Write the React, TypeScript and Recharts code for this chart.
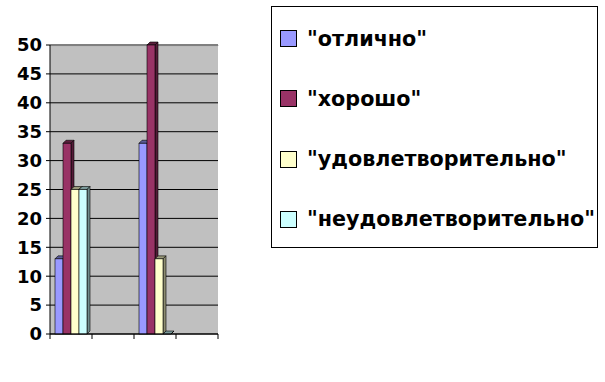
import { BarChart, Bar, XAxis, YAxis, CartesianGrid, Legend, ReferenceArea } from "recharts"

const categories = ["1", "2", "3", "4"]
// null = empty cell in the source sheet (nothing drawn), 0 = real zero (flat sliver)
const otlichno = [13, null, 33, null]
const khorosho = [33, null, 50, null]
const udovl = [25, null, 13, null]
const neudovl = [25, null, 0, null]
const seriesNames = ['"отлично"', '"хорошо"', '"удовлетворительно"', '"неудовлетворительно"']
const seriesColors = ["#9999FF", "#993366", "#FFFFCC", "#CCFFFF"]
const yTicks = [0, 5, 10, 15, 20, 25, 30, 35, 40, 45, 50]

const data = categories.map((name, i) => ({
  name,
  s0: otlichno[i],
  s1: khorosho[i],
  s2: udovl[i],
  s3: neudovl[i],
}))

const FONT = '"DejaVu Sans", Tahoma, sans-serif'

function shade(hex: string, k: number) {
  const n = parseInt(hex.slice(1), 16)
  const r = Math.round(((n >> 16) & 255) * k)
  const g = Math.round(((n >> 8) & 255) * k)
  const b = Math.round((n & 255) * k)
  return `rgb(${r},${g},${b})`
}

// fake 3d box like old excel charts
const Bar3D = (props: any) => {
  const { x, y, width, height, fill, value } = props
  if (height == null || width == null || value == null) return <g />
  const v = Array.isArray(value) ? value[1] : value
  if (v == null) return <g />
  const d = 3
  const h = Math.max(height, 0)
  return (
    <g>
      <polygon
        points={`${x},${y} ${x + d},${y - d} ${x + width + d},${y - d} ${x + width},${y}`}
        fill={shade(fill, 0.6)}
        stroke="#000"
        strokeWidth={0.6}
      />
      <polygon
        points={`${x + width},${y} ${x + width + d},${y - d} ${x + width + d},${y + h - d} ${x + width},${y + h}`}
        fill={shade(fill, 0.55)}
        stroke="#000"
        strokeWidth={0.6}
      />
      {h > 0 && <rect x={x} y={y} width={width} height={h} fill={fill} stroke="#000" strokeWidth={0.6} />}
    </g>
  )
}

// ticks sit on the category borders, not the centres
const EdgeTick = (props: any) => {
  const { x, y, payload, index, visibleTicksCount } = props
  const half = payload?.offset ?? 0
  const last = index === (visibleTicksCount ?? categories.length) - 1
  return (
    <g>
      <line x1={x - half} y1={y} x2={x - half} y2={y + 5} stroke="#000" />
      {last && <line x1={x + half} y1={y} x2={x + half} y2={y + 5} stroke="#000" />}
    </g>
  )
}

const LegendBox = ({ payload }: { payload?: Array<{ value: string; color: string }> }) => {
  const items = [...(payload ?? [])].sort(
    (a, b) => seriesNames.indexOf(a.value) - seriesNames.indexOf(b.value)
  )
  return (
    <div
      style={{
        width: 325,
        height: 240,
        border: "1px solid #000",
        background: "#fff",
        fontFamily: FONT,
        fontWeight: "bold",
        fontSize: 20.7,
        color: "#000",
        position: "relative",
      }}
    >
      {items.map((entry, index) => (
        <div
          key={index}
          style={{
            position: "absolute",
            left: 8,
            top: 13.5 + index * 60.3,
            height: 36,
            display: "flex",
            alignItems: "center",
            whiteSpace: "nowrap",
          }}
        >
          <div
            style={{
              width: 15,
              height: 15,
              background: entry.color,
              border: "1px solid #000",
              marginRight: 10,
            }}
          />
          <span>{entry.value}</span>
        </div>
      ))}
    </div>
  )
}

export default function App() {
  return (
    <div style={{ position: "fixed", left: 0, top: 0, width: 605, height: 382, background: "#fff" }}>
      <BarChart
        width={605}
        height={382}
        data={data}
        margin={{ top: 45, right: 387, bottom: 18, left: 0 }}
        barCategoryGap={5}
        barGap={0}
      >
        <CartesianGrid vertical={false} stroke="#000" fill="#C0C0C0" fillOpacity={1} />
        <XAxis
          dataKey="name"
          height={30}
          tickSize={0}
          tickMargin={0}
          tickLine={false}
          axisLine={{ stroke: "#000" }}
          tick={<EdgeTick />}
          interval={0}
        />
        <YAxis
          domain={[0, 50]}
          ticks={yTicks}
          width={50}
          tickSize={4}
          tickMargin={4}
          axisLine={{ stroke: "#000" }}
          tickLine={{ stroke: "#000" }}
          tick={{ fill: "#000", fontFamily: FONT, fontWeight: "bold", fontSize: 18 }}
        />
        <ReferenceArea y1={49.9} y2={50} fill="none" stroke="#808080" />
        <Legend
          layout="vertical"
          align="center"
          verticalAlign="middle"
          content={<LegendBox />}
          wrapperStyle={{ position: "absolute", left: 271, top: 6, width: 327, height: 242 }}
        />
        {seriesNames.map((nm, i) => (
          <Bar
            key={nm}
            dataKey={`s${i}`}
            name={nm}
            fill={seriesColors[i]}
            shape={<Bar3D />}
            isAnimationActive={false}
          />
        ))}
      </BarChart>
    </div>
  )
}
